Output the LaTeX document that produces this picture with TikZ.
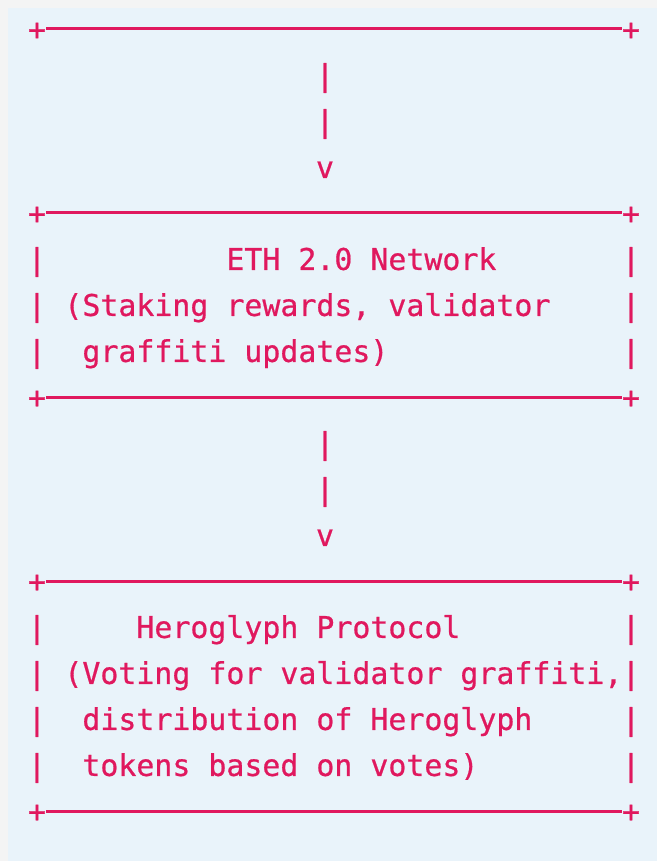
\documentclass[tikz,border=0pt]{standalone}
\usepackage{fontspec}
\setmonofont[FakeBold=0.7]{DejaVu Sans Mono}
\usepackage{xcolor}

\definecolor{codepink}{RGB}{224,24,94}
\definecolor{panelblue}{RGB}{233,243,250}
\definecolor{pagegray}{RGB}{244,244,244}

\tikzset{
  ascii/.style={text=codepink, font=\ttfamily\fontsize{14.95}{23}\selectfont,
    inner sep=0pt, text height=10.9pt, text depth=0pt},
  txt/.style={ascii, anchor=west},
  rule/.style={draw=codepink, line width=1.5pt},
}

\begin{document}
\begin{tikzpicture}[x=9pt,y=-23pt]
    % Page and panel
    \fill[pagegray] (-2.0556,-0.6304) rectangle (34.444,18.087);
    \fill[panelblue] (-1.611,-0.4565) rectangle (34.444,18.087);
    \useasboundingbox (-2.0556,-0.6304) rectangle (34.444,18.087);

    % Bottom edge of the box above
    \node[ascii] (tl0) at (0,0) {+};
    \node[ascii] (tr0) at (33,0) {+};
    \draw[rule] (tl0.east) -- (tr0.west);

    % Arrow down to ETH 2.0
    \node[ascii] (a1) at (16,1) {|};
    \node[ascii] (a2) at (16,2) {|};
    \node[ascii] (a3) at (16,3) {v};

    % ETH 2.0 Network box
    \node[ascii] (tl4) at (0,4) {+};
    \node[ascii] (tr4) at (33,4) {+};
    \draw[rule] (tl4.east) -- (tr4.west);
    \node[ascii] (el5) at (0,5) {|};
    \node[ascii] (er5) at (33,5) {|};
    \node[ascii] (el6) at (0,6) {|};
    \node[ascii] (er6) at (33,6) {|};
    \node[ascii] (el7) at (0,7) {|};
    \node[ascii] (er7) at (33,7) {|};
    \node[txt] (eth) at (10.5,5) {ETH 2.0 Network};
    \node[txt] (ethA) at (1.5,6) {(Staking rewards, validator};
    \node[txt] (ethB) at (2.5,7) {graffiti updates)};
    \node[ascii] (tl8) at (0,8) {+};
    \node[ascii] (tr8) at (33,8) {+};
    \draw[rule] (tl8.east) -- (tr8.west);

    % Arrow down to Heroglyph
    \node[ascii] (b1) at (16,9) {|};
    \node[ascii] (b2) at (16,10) {|};
    \node[ascii] (b3) at (16,11) {v};

    % Heroglyph Protocol box
    \node[ascii] (tl12) at (0,12) {+};
    \node[ascii] (tr12) at (33,12) {+};
    \draw[rule] (tl12.east) -- (tr12.west);
    \node[ascii] (hl13) at (0,13) {|};
    \node[ascii] (hr13) at (33,13) {|};
    \node[ascii] (hl14) at (0,14) {|};
    \node[ascii] (hr14) at (33,14) {|};
    \node[ascii] (hl15) at (0,15) {|};
    \node[ascii] (hr15) at (33,15) {|};
    \node[ascii] (hl16) at (0,16) {|};
    \node[ascii] (hr16) at (33,16) {|};
    \node[txt] (hero) at (5.5,13) {Heroglyph Protocol};
    \node[txt] (heroA) at (1.5,14) {(Voting for validator graffiti,};
    \node[txt] (heroB) at (2.5,15) {distribution of Heroglyph};
    \node[txt] (heroC) at (2.5,16) {tokens based on votes)};
    \node[ascii] (tl17) at (0,17) {+};
    \node[ascii] (tr17) at (33,17) {+};
    \draw[rule] (tl17.east) -- (tr17.west);
\end{tikzpicture}
\end{document}
